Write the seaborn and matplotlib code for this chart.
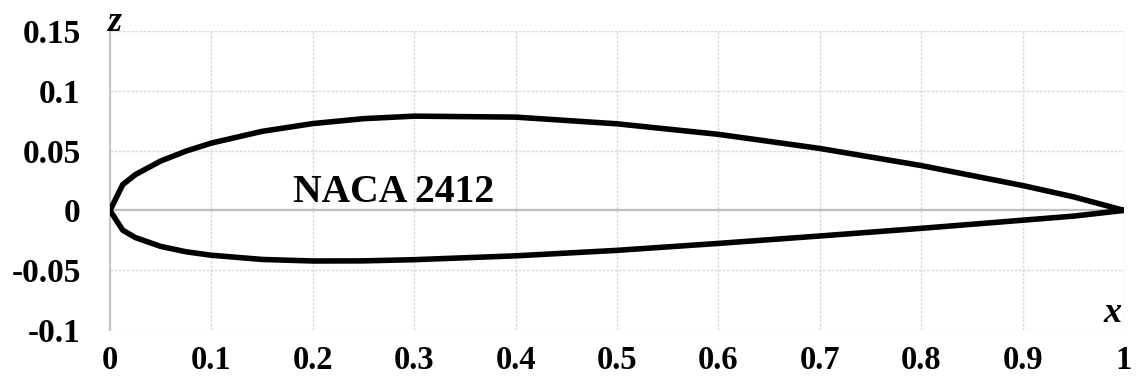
import numpy as np
import pandas as pd
import matplotlib
matplotlib.use("Agg")
import matplotlib.pyplot as plt
import seaborn as sns

# NACA 2412 section coordinates
x_upper = [0.0, 0.0125, 0.025, 0.05, 0.075, 0.1, 0.15, 0.2, 0.25, 0.3, 0.4, 0.5, 0.6, 0.7, 0.8, 0.9, 0.95, 1.0]
z_upper = [0.0, 0.0215, 0.0299, 0.0413, 0.0496, 0.0563, 0.0661, 0.0726, 0.0767, 0.0788, 0.0780, 0.0724, 0.0636, 0.0518, 0.0375, 0.0208, 0.0114, 0.0]
x_lower = [0.0, 0.0125, 0.025, 0.05, 0.075, 0.1, 0.15, 0.2, 0.25, 0.3, 0.4, 0.5, 0.6, 0.7, 0.8, 0.9, 0.95, 1.0]
z_lower = [0.0, -0.0165, -0.0227, -0.0301, -0.0346, -0.0375, -0.0410, -0.0423, -0.0422, -0.0412, -0.0380, -0.0334, -0.0276, -0.0214, -0.0150, -0.0082, -0.0048, 0.0]

x_ticks = [0, 0.1, 0.2, 0.3, 0.4, 0.5, 0.6, 0.7, 0.8, 0.9, 1.0]
x_tick_labels = ["0", "0.1", "0.2", "0.3", "0.4", "0.5", "0.6", "0.7", "0.8", "0.9", "1"]
y_ticks = [-0.1, -0.05, 0, 0.05, 0.1, 0.15]
y_tick_labels = ["-0.1", "-0.05", "0", "0.05", "0.1", "0.15"]
profile_label = "NACA 2412"

sns.set_theme(style="white")
plt.rcParams["font.family"] = ["Liberation Serif", "DejaVu Serif"]

# closed outline: upper surface from trailing edge to leading edge, then lower surface back
df = pd.DataFrame({
    "x": list(reversed(x_upper)) + x_lower[1:],
    "z": list(reversed(z_upper)) + z_lower[1:],
})
df["order"] = np.arange(len(df))

fig = plt.figure(figsize=(11.38, 3.83), dpi=100)
ax = fig.add_axes([110 / 1138, 1 - 330 / 383, (1124 - 110) / 1138, (330 - 31) / 383])

grid_col = "#d9d9d9"
for xv in x_ticks:
    ax.axvline(xv, color=grid_col, lw=1.0, ls=(0, (2, 1)), zorder=0)
for yv in y_ticks:
    if yv == 0:
        ax.axhline(yv, color="#bfbfbf", lw=1.6, zorder=0.5)
    else:
        ax.axhline(yv, color=grid_col, lw=1.0, ls=(0, (2, 1)), zorder=0)

sns.lineplot(data=df, x="x", y="z", sort=False, estimator=None, color="black",
             lw=4.0, ax=ax, zorder=3)

ax.set_xlim(0, 1)
ax.set_ylim(-0.1, 0.15)
ax.set_xticks(x_ticks)
ax.set_xticklabels(x_tick_labels)
ax.set_yticks(y_ticks)
ax.set_yticklabels(y_tick_labels)
ax.tick_params(axis="x", length=0, pad=10.5, labelsize=23.5)
ax.tick_params(axis="y", length=0, pad=21, labelsize=24)
for lab in ax.get_xticklabels() + ax.get_yticklabels():
    lab.set_fontweight("bold")
    lab.set_color("black")
ax.set_xlabel("")
ax.set_ylabel("")

for side in ["top", "right", "bottom"]:
    ax.spines[side].set_visible(False)
ax.spines["left"].set_color("#bfbfbf")
ax.spines["left"].set_linewidth(1.3)

ax.text(0.18, 0.0067, profile_label, fontsize=28.5, fontweight="bold", color="black",
        ha="left", va="baseline", zorder=4)
ax.text(-0.003, 1.0, "z", transform=ax.transAxes, fontsize=26, fontweight="bold",
        fontstyle="italic", ha="left", va="baseline", color="black")
ax.text(0.998, 8 / 299, "x", transform=ax.transAxes, fontsize=26, fontweight="bold",
        fontstyle="italic", ha="right", va="baseline", color="black")

fig.savefig("out.png", dpi=100, facecolor="white")
